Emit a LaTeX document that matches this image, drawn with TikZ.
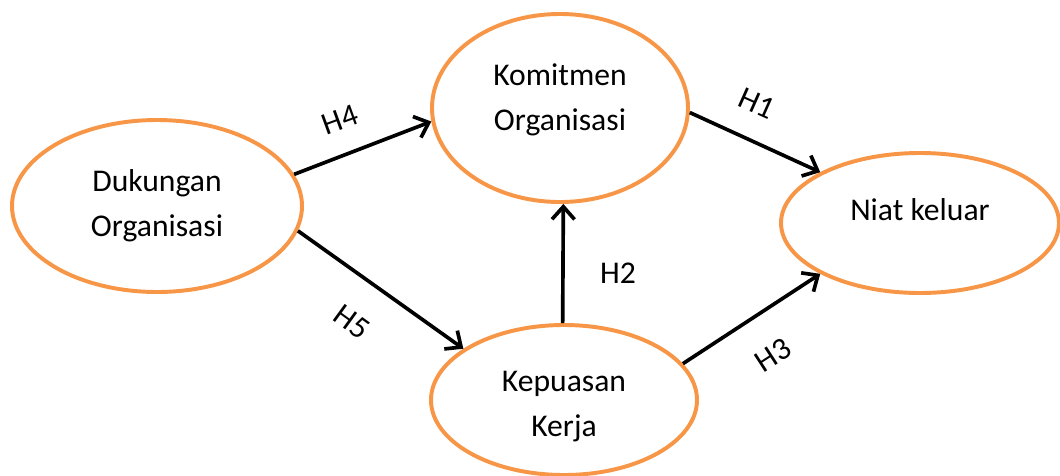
\documentclass[tikz,border=0pt]{standalone}
\usepackage{fontspec}
\setmainfont{Carlito}
\usepackage{xcolor}
\usepackage{tikz}
\usetikzlibrary{shapes.geometric,arrows.meta}

\definecolor{boxorange}{HTML}{F79646}

\begin{document}
\begin{tikzpicture}[
        x=0.025cm, y=-0.025cm,
        konstruk/.style={ellipse, draw=boxorange, line width=2.8pt, fill=white, inner sep=0pt},
        teks/.style={align=center, inner sep=0pt, font=\fontsize{22.5}{32}\selectfont},
        hypo/.style={font=\fontsize{22.5}{27}\selectfont, inner sep=1pt},
        arrow/.style={-{Straight Barb[length=9pt, width=16pt, line width=2.6pt]}, line width=2.6pt, black}
    ]
        \useasboundingbox (0,0) rectangle (1060,475);

        % ========== VARIABLES (Ellipses) ==========
        \node[konstruk, minimum width=290*0.025cm, minimum height=172*0.025cm] (dukungan) at (157,206) {};
        \node[konstruk, minimum width=256*0.025cm, minimum height=188*0.025cm] (komitmen) at (560,108) {};
        \node[konstruk, minimum width=278*0.025cm, minimum height=140*0.025cm] (niat) at (920,223) {};
        \node[konstruk, minimum width=266*0.025cm, minimum height=150*0.025cm] (kepuasan) at (564,400) {};

        % variable names (set a little off centre, as in the original)
        \node[teks] (dukunganTeks) at (157,205.5) {Dukungan\\Organisasi};
        \node[teks] (komitmenTeks) at (560,99.5) {Komitmen\\Organisasi};
        \node[teks] (niatTeks) at (920,210) {Niat keluar};
        \node[teks] (kepuasanTeks) at (564,407) {Kepuasan\\Kerja};

        % ========== HYPOTHESES (Arrows) ==========
        \draw[arrow] (dukungan.13) -- (komitmen.186);
        \draw[arrow] (dukungan.-10) -- (kepuasan.153);
        \draw[arrow] (kepuasan.91) -- (komitmen.272);
        \draw[arrow] (komitmen.358) -- (niat.153);
        \draw[arrow] (kepuasan.17) -- (niat.207);

        % ========== HYPOTHESIS LABELS ==========
        \node[hypo, rotate=20] (h4) at (340,120) {H4};
        \node[hypo, rotate=-36] (h5) at (352,322) {H5};
        \node[hypo] (h2) at (618,273) {H2};
        \node[hypo, rotate=-24] (h1) at (757,103) {H1};
        \node[hypo, rotate=33] (h3) at (773,355) {H3};

\end{tikzpicture}
\end{document}
